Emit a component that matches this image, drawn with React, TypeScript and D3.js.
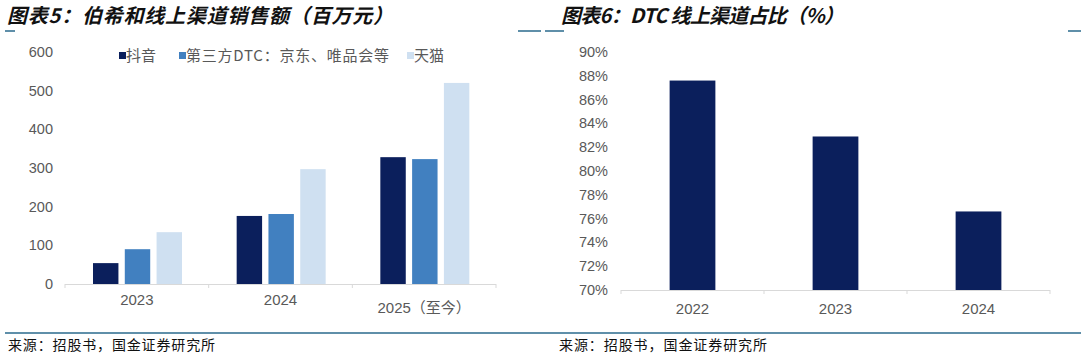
import React from "react";
import * as d3 from "d3";

const leftCategories = ["2023", "2024", "2025（至今）"];
const seriesNames = ["抖音", "第三方DTC：京东、唯品会等", "天猫"];
const douyin = [54, 176, 328];
const thirdParty = [90, 181, 323];
const tmall = [134, 297, 520];
const leftTicks = [0, 100, 200, 300, 400, 500, 600];

const rightCategories = ["2022", "2023", "2024"];
const dtcShare = [87.6, 82.9, 76.6];
const rightTicks = [70, 72, 74, 76, 78, 80, 82, 84, 86, 88, 90];

const colors = ["#0b1f5c", "#4180c0", "#cfe0f1"];
const navy = "#0b1f5c";
const lineColor = "#2a6a8c";
const textGray = "#595959";
const axisGray = "#d9d9d9";
const cjk = "'Noto Sans CJK SC', 'Liberation Sans', sans-serif";
const latin = "'Liberation Sans', 'Noto Sans CJK SC', sans-serif";

export default function App() {
  // Left chart scales
  const lx = d3.scaleBand<string>().domain(leftCategories).range([65, 496]);
  const ly = d3.scaleLinear().domain([0, 600]).range([284, 52]);
  const inner = d3.scaleBand<number>().domain([0, 1, 2]).range([28, 117]).paddingInner(0.2);
  const seriesData = [douyin, thirdParty, tmall];

  // Right chart scales
  const rx = d3.scaleBand<string>().domain(rightCategories).range([621, 1050]);
  const barW = rx.step() * 0.32;
  const ry = d3.scaleLinear().domain([70, 90]).range([290, 52]);

  const legendItems = [
    { x: 119, name: seriesNames[0], color: colors[0], len: 0 },
    { x: 179, name: seriesNames[1], color: colors[1], len: 203 },
    { x: 407, name: seriesNames[2], color: colors[2], len: 0 },
  ];

  return (
    <svg width={1086} height={356} style={{ position: "absolute", left: 0, top: 0, background: "#fff" }}>
      {/* Titles */}
      <text x={7} y={23} fontFamily={cjk} fontSize={20} fontWeight="bold" fontStyle="italic" fill="#111" textLength={386}>
        图表5：伯希和线上渠道销售额（百万元）
      </text>
      <text x={561} y={23} fontFamily={cjk} fontSize={20} fontWeight="bold" fontStyle="italic" fill="#111" textLength={283}>
        图表6：DTC 线上渠道占比（%）
      </text>
      {/* Top short lines */}
      <line x1={5} x2={15} y1={31} y2={31} stroke={lineColor} strokeWidth={1.5} />
      <line x1={518} x2={541} y1={31} y2={31} stroke={lineColor} strokeWidth={1.5} />
      <line x1={545} x2={564} y1={31} y2={31} stroke={lineColor} strokeWidth={1.5} />
      <line x1={1068} x2={1081} y1={31} y2={31} stroke={lineColor} strokeWidth={1.5} />

      {/* Left chart */}
      {leftTicks.map((t) => (
        <text key={t} x={53} y={ly(t)} dy="0.35em" textAnchor="end" fontFamily={latin} fontSize={14.5} fill={textGray}>
          {t}
        </text>
      ))}
      {leftCategories.map((c, i) =>
        seriesData.map((s, j) => (
          <rect
            key={c + j}
            x={(lx(c) as number) + (inner(j) as number)}
            y={ly(s[i])}
            width={inner.bandwidth()}
            height={ly(0) - ly(s[i])}
            fill={colors[j]}
          />
        ))
      )}
      <line x1={65} x2={496} y1={284.5} y2={284.5} stroke={axisGray} strokeWidth={1} />
      {[0, 1, 2, 3].map((i) => (
        <line key={i} x1={65 + i * lx.step()} x2={65 + i * lx.step()} y1={284} y2={288} stroke={axisGray} strokeWidth={1} />
      ))}
      {leftCategories.map((c, i) => (
        <text
          key={c}
          x={(lx(c) as number) + lx.bandwidth() / 2}
          y={i === 2 ? 308 : 300}
          dy="0.35em"
          textAnchor="middle"
          fontFamily={latin}
          fontSize={15}
          fill={textGray}
        >
          {c}
        </text>
      ))}
      {legendItems.map((l) => (
        <g key={l.name}>
          <rect x={l.x} y={52} width={7} height={7} fill={l.color} />
          <text
            x={l.x + 7}
            y={56}
            dy="0.35em"
            fontFamily={cjk}
            fontSize={15}
            fill={textGray}
            {...(l.len ? { textLength: l.len } : {})}
          >
            {l.name}
          </text>
        </g>
      ))}

      {/* Right chart */}
      {rightTicks.map((t) => (
        <text key={t} x={608} y={ry(t)} dy="0.35em" textAnchor="end" fontFamily={latin} fontSize={14.5} fill={textGray}>
          {t}%
        </text>
      ))}
      {rightCategories.map((c, i) => (
        <rect
          key={c}
          x={(rx(c) as number) + (rx.step() - barW) / 2}
          y={ry(dtcShare[i])}
          width={barW}
          height={ry(70) - ry(dtcShare[i])}
          fill={navy}
        />
      ))}
      <line x1={621} x2={1050} y1={290.5} y2={290.5} stroke={axisGray} strokeWidth={1} />
      {[0, 1, 2, 3].map((i) => (
        <line key={i} x1={621 + i * rx.step()} x2={621 + i * rx.step()} y1={290} y2={294} stroke={axisGray} strokeWidth={1} />
      ))}
      {rightCategories.map((c) => (
        <text
          key={c}
          x={(rx(c) as number) + rx.bandwidth() / 2}
          y={309}
          dy="0.35em"
          textAnchor="middle"
          fontFamily={latin}
          fontSize={15}
          fill={textGray}
        >
          {c}
        </text>
      ))}

      {/* Bottom line & sources */}
      <line x1={5} x2={1081} y1={333} y2={333} stroke={lineColor} strokeWidth={1.5} />
      <text x={8} y={345} dy="0.35em" fontFamily={cjk} fontSize={14} fill="#111" textLength={207}>
        来源：招股书，国金证券研究所
      </text>
      <text x={559} y={345} dy="0.35em" fontFamily={cjk} fontSize={14} fill="#111" textLength={208}>
        来源：招股书，国金证券研究所
      </text>
    </svg>
  );
}
